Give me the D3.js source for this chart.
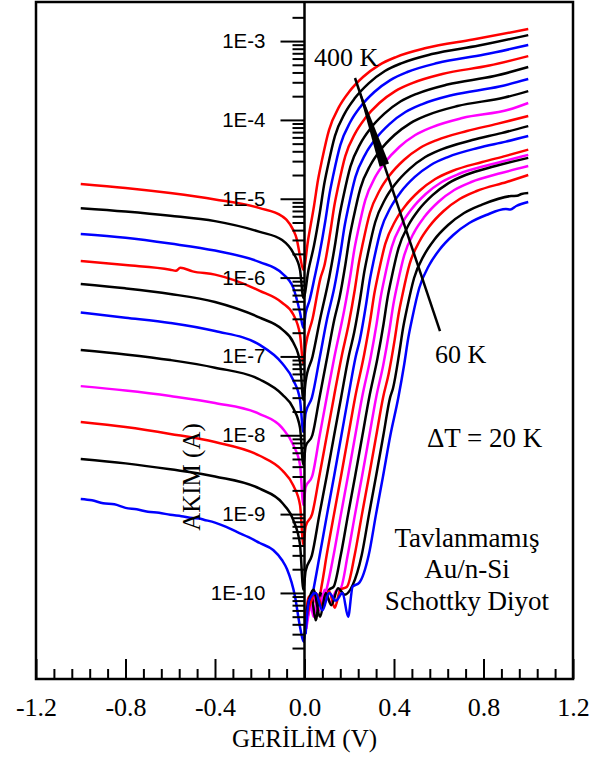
<!DOCTYPE html>
<html>
<head>
<meta charset="utf-8">
<script src="https://cdn.jsdelivr.net/npm/d3@7"></script>
<style>
  body { margin: 0; background: #fff; }
</style>
</head>
<body>
<svg id="chart" width="595" height="760"></svg>
<script>
'use strict';

// temperatures (K), hottest first, and the colour used for each curve
const temps = [400, 380, 360, 340, 320, 300, 280, 260, 240, 220, 200, 180, 160, 140, 120, 100, 80, 60];
const curveColors = ['#ff0000', '#000000', '#0000ff', '#ff0000', '#000000', '#0000ff', '#000000', '#ff00ff',
    '#ff0000', '#000000', '#0000ff', '#ff0000', '#ff00ff', '#000000', '#ff00ff', '#ff0000', '#000000', '#0000ff'];

// [voltage (V), |current| (A)]
const c400 = [[-1.0, 1.54e-5], [-0.8, 1.37e-5], [-0.6, 1.18e-5], [-0.4, 9.8e-6], [-0.2, 7.6e-6], [-0.1, 6.0e-6],
    [-0.08, 5.4e-6], [-0.05, 4.0e-6], [-0.035, 3.1e-6], [-0.02, 1.88e-6], [-0.005, 1.25e-6],
    [0.016, 3.0e-6], [0.0425, 8.1e-6], [0.0603, 1.73e-5], [0.0782, 3.1e-5], [0.1095, 7.44e-5], [0.1542, 1.46e-4],
    [0.1989, 2.26e-4], [0.2615, 3.5e-4], [0.333, 4.96e-4], [0.4089, 6.27e-4], [0.543, 8.15e-4], [0.753, 1.045e-3], [1.0, 1.42e-3]];
const c380 = [[-1.0, 7.6e-6], [-0.8, 6.9e-6], [-0.6, 6.1e-6], [-0.4, 5.2e-6], [-0.2, 3.8e-6], [-0.1, 3.0e-6],
    [-0.05, 2.05e-6], [-0.02, 1.25e-6], [-0.005, 5.5e-7],
    [0.018, 1.26e-6], [0.042, 2.51e-6], [0.0689, 6.79e-6], [0.0867, 1.45e-5], [0.1046, 2.6e-5], [0.1359, 6.24e-5],
    [0.1806, 1.22e-4], [0.2253, 1.89e-4], [0.2879, 2.93e-4], [0.3594, 4.17e-4], [0.4353, 5.26e-4], [0.5694, 6.84e-4],
    [0.7794, 8.77e-4], [1.0, 1.19e-3]];
const c360 = [[-1.0, 3.57e-6], [-0.8, 3.2e-6], [-0.6, 2.7e-6], [-0.4, 2.2e-6], [-0.2, 1.57e-6], [-0.1, 1.13e-6],
    [-0.05, 7.4e-7], [-0.02, 3.6e-7], [-0.005, 2.3e-7],
    [0.006, 3.6e-7], [0.023, 5.2e-7], [0.045, 1.0e-6], [0.0661, 1.93e-6], [0.093, 5.22e-6], [0.1108, 1.11e-5],
    [0.1287, 2.0e-5], [0.16, 4.8e-5], [0.2047, 9.4e-5], [0.2494, 1.46e-4], [0.312, 2.26e-4], [0.3835, 3.2e-4],
    [0.4594, 4.05e-4], [0.5935, 5.26e-4], [0.8035, 6.74e-4], [1.0, 8.9e-4]];
const c340 = [[-1.0, 1.62e-6], [-0.8, 1.44e-6], [-0.6, 1.26e-6], [-0.575, 1.22e-6], [-0.555, 1.33e-6], [-0.5, 1.2e-6],
    [-0.4, 1.09e-6], [-0.2, 6.8e-7], [-0.1, 4.8e-7], [-0.05, 3.4e-7], [-0.02, 1.87e-7], [-0.005, 8.2e-8],
    [0.005, 1.35e-7], [0.036, 3.0e-7], [0.072, 1.0e-6], [0.0884, 1.4e-6], [0.1153, 3.78e-6], [0.1331, 8.09e-6],
    [0.151, 1.45e-5], [0.1823, 3.48e-5], [0.227, 6.81e-5], [0.2717, 1.056e-4], [0.3343, 1.64e-4], [0.4058, 2.32e-4],
    [0.4817, 2.93e-4], [0.6158, 3.82e-4], [0.8258, 4.89e-4], [1.0, 6.45e-4]];
const c320 = [[-1.0, 8.3e-7], [-0.8, 7.3e-7], [-0.6, 6.2e-7], [-0.4, 4.9e-7], [-0.2, 3.1e-7], [-0.1, 2.2e-7],
    [-0.05, 1.5e-7], [-0.02, 8.5e-8], [-0.005, 2.8e-8],
    [0.005, 4.8e-8], [0.036, 1.0e-7], [0.07, 3.0e-7], [0.1112, 1.03e-6], [0.1381, 2.79e-6], [0.1559, 5.95e-6],
    [0.1738, 1.067e-5], [0.2051, 2.56e-5], [0.2498, 5.01e-5], [0.2945, 7.77e-5], [0.3571, 1.2e-4], [0.4286, 1.71e-4],
    [0.5045, 2.16e-4], [0.6386, 2.81e-4], [0.8486, 3.6e-4], [1.0, 4.68e-4]];
const c300 = [[-1.0, 3.6e-7], [-0.8, 3.1e-7], [-0.6, 2.66e-7], [-0.4, 2.1e-7], [-0.2, 1.4e-7], [-0.1, 8.2e-8],
    [-0.05, 5.0e-8], [-0.02, 2.8e-8], [-0.005, 1.1e-8],
    [0.005, 1.9e-8], [0.033, 3.0e-8], [0.069, 1.0e-7], [0.101, 3.0e-7], [0.1338, 7.6e-7], [0.1607, 2.05e-6],
    [0.1785, 4.38e-6], [0.1964, 7.85e-6], [0.2277, 1.89e-5], [0.2724, 3.69e-5], [0.3171, 5.72e-5], [0.3797, 8.86e-5],
    [0.4512, 1.258e-4], [0.5271, 1.589e-4], [0.6612, 2.07e-4], [0.8712, 2.65e-4], [1.0, 3.3e-4]];
const c280 = [[-1.0, 1.21e-7], [-0.8, 1.06e-7], [-0.6, 9.0e-8], [-0.4, 7.2e-8], [-0.2, 5.1e-8], [-0.1, 3.3e-8],
    [-0.05, 2.2e-8], [-0.02, 1.24e-8], [-0.005, 4.2e-9],
    [0.005, 7.2e-9], [0.035, 1.0e-8], [0.067, 3.0e-8], [0.102, 1.0e-7], [0.134, 3.0e-7], [0.1562, 5.51e-7],
    [0.1831, 1.49e-6], [0.2009, 3.18e-6], [0.2188, 5.69e-6], [0.2501, 1.367e-5], [0.2948, 2.68e-5], [0.3395, 4.15e-5],
    [0.4021, 6.43e-5], [0.4736, 9.12e-5], [0.5495, 1.152e-4], [0.6836, 1.5e-4], [0.8936, 1.92e-4], [1.0, 2.32e-4]];
const c260 = [[-1.0, 4.2e-8], [-0.8, 3.7e-8], [-0.6, 3.15e-8], [-0.4, 2.57e-8], [-0.2, 1.86e-8], [-0.1, 1.24e-8],
    [-0.05, 7.5e-9], [-0.02, 4.2e-9], [-0.005, 1.3e-9],
    [0.005, 2.2e-9], [0.034, 3.0e-9], [0.068, 1.0e-8], [0.099, 3.0e-8], [0.134, 1.0e-7], [0.1777, 3.88e-7],
    [0.2046, 1.047e-6], [0.2224, 2.24e-6], [0.2403, 4.01e-6], [0.2716, 9.63e-6], [0.3163, 1.89e-5], [0.361, 2.92e-5],
    [0.4236, 4.53e-5], [0.4951, 6.43e-5], [0.571, 8.12e-5], [0.7051, 1.056e-4], [0.9151, 1.353e-4], [1.0, 1.64e-4]];
const c240 = [[-1.0, 1.47e-8], [-0.8, 1.27e-8], [-0.6, 1.04e-8], [-0.4, 8.2e-9], [-0.2, 5.5e-9], [-0.1, 3.6e-9],
    [-0.05, 2.3e-9], [-0.02, 1.3e-9], [-0.005, 4.1e-10],
    [0.005, 7.0e-10], [0.034, 1.0e-9], [0.066, 3.0e-9], [0.1, 1.0e-8], [0.131, 3.0e-8], [0.166, 1.0e-7],
    [0.1984, 2.65e-7], [0.2253, 7.17e-7], [0.2431, 1.53e-6], [0.261, 2.74e-6], [0.2923, 6.59e-6], [0.337, 1.29e-5],
    [0.3817, 2.0e-5], [0.4443, 3.1e-5], [0.5158, 4.4e-5], [0.5917, 5.55e-5], [0.7258, 7.22e-5], [0.86, 8.9e-5], [1.0, 1.12e-4]];
const c220 = [[-1.0, 5.0e-9], [-0.8, 4.4e-9], [-0.6, 3.7e-9], [-0.4, 3.0e-9], [-0.2, 2.1e-9], [-0.1, 1.39e-9],
    [-0.05, 8.4e-10], [-0.02, 4.1e-10], [-0.005, 1.1e-10],
    [0.005, 1.9e-10], [0.033, 3.0e-10], [0.067, 1.0e-9], [0.099, 3.0e-9], [0.1325, 1.0e-8], [0.1635, 3.0e-8],
    [0.1975, 1.0e-7], [0.2224, 2.04e-7], [0.2493, 5.51e-7], [0.2671, 1.177e-6], [0.285, 2.11e-6], [0.3163, 5.07e-6],
    [0.361, 9.92e-6], [0.4057, 1.537e-5], [0.4683, 2.38e-5], [0.5398, 3.38e-5], [0.6157, 4.27e-5], [0.7498, 5.55e-5],
    [0.88, 6.8e-5], [1.0, 8.36e-5]];
const c200 = [[-1.0, 1.56e-9], [-0.95, 1.5e-9], [-0.9, 1.37e-9], [-0.85, 1.33e-9], [-0.8, 1.2e-9], [-0.75, 1.15e-9],
    [-0.7, 1.07e-9], [-0.65, 1.04e-9], [-0.6, 9.8e-10], [-0.55, 9.4e-10], [-0.5, 8.9e-10], [-0.47, 8.8e-10],
    [-0.45, 8.5e-10], [-0.4, 7.8e-10], [-0.35, 6.9e-10], [-0.3, 5.9e-10], [-0.25, 5.1e-10], [-0.2, 4.3e-10],
    [-0.14, 3.5e-10], [-0.1, 2.6e-10], [-0.078, 2.0e-10], [-0.042, 8.9e-11], [-0.02, 3.7e-11], [-0.004, 2.4e-11],
    [0.005, 3.6e-11], [0.02, 6.0e-11], [0.037, 1.0e-10], [0.068, 3.0e-10], [0.101, 1.0e-9], [0.132, 3.0e-9],
    [0.165, 1.0e-8], [0.195, 3.0e-8], [0.229, 1.0e-7], [0.2472, 1.62e-7], [0.2741, 4.36e-7], [0.2919, 9.32e-7],
    [0.3098, 1.67e-6], [0.3411, 4.01e-6], [0.3858, 7.85e-6], [0.4305, 1.217e-5], [0.4931, 1.89e-5], [0.5646, 2.68e-5],
    [0.6405, 3.38e-5], [0.7746, 4.4e-5], [0.9, 5.3e-5], [1.0, 6.24e-5]];
const c180 = [[0.004, 4.5e-11], [0.02, 9.0e-11], [0.035, 7.0e-11], [0.05, 1.0e-10], [0.062, 8.0e-11], [0.078, 1.3e-10],
    [0.099, 3.0e-10], [0.132, 1.0e-9], [0.163, 3.0e-9], [0.196, 1.0e-8], [0.226, 3.0e-8],
    [0.2671, 1.074e-7], [0.294, 2.9e-7], [0.3118, 6.19e-7], [0.3297, 1.11e-6], [0.361, 2.67e-6], [0.4057, 5.22e-6],
    [0.4504, 8.09e-6], [0.513, 1.253e-5], [0.5845, 1.78e-5], [0.6604, 2.25e-5], [0.7945, 2.92e-5], [0.9, 3.5e-5], [1.0, 4.2e-5]];
const c160 = [[0.005, 3.5e-11], [0.025, 8.0e-11], [0.04, 5.0e-11], [0.06, 9.0e-11], [0.08, 7.5e-11], [0.1, 1.15e-10],
    [0.13, 3.0e-10], [0.163, 1.0e-9], [0.194, 3.0e-9], [0.227, 1.0e-8], [0.257, 3.0e-8],
    [0.296, 9.84e-8], [0.3229, 2.66e-7], [0.3407, 5.67e-7], [0.3586, 1.017e-6], [0.3899, 2.44e-6], [0.4346, 4.78e-6],
    [0.4793, 7.41e-6], [0.5419, 1.148e-5], [0.6134, 1.63e-5], [0.6893, 2.06e-5], [0.8234, 2.68e-5], [0.92, 3.15e-5], [1.0, 3.6e-5]];
const c140 = [[0.006, 4.0e-11], [0.03, 9.5e-11], [0.05, 4.5e-11], [0.07, 1.0e-10], [0.09, 8.0e-11], [0.11, 1.1e-10],
    [0.13, 1.2e-10], [0.162, 3.0e-10], [0.195, 1.0e-9], [0.226, 3.0e-9], [0.259, 1.0e-8], [0.289, 3.0e-8],
    [0.3264, 9.55e-8], [0.3533, 2.58e-7], [0.3711, 5.51e-7], [0.389, 9.88e-7], [0.4203, 2.37e-6], [0.465, 4.64e-6],
    [0.5097, 7.19e-6], [0.5723, 1.11e-5], [0.6438, 1.58e-5], [0.7197, 2.0e-5], [0.8538, 2.6e-5], [1.0, 3.3e-5]];
const c120 = [[0.008, 3.5e-11], [0.04, 9.0e-11], [0.065, 6.0e-11], [0.09, 1.1e-10], [0.115, 7.5e-11], [0.14, 1.05e-10],
    [0.162, 1.15e-10], [0.193, 3.0e-10], [0.226, 1.0e-9], [0.257, 3.0e-9], [0.29, 1.0e-8], [0.32, 3.0e-8],
    [0.352, 7.79e-8], [0.3789, 2.1e-7], [0.3967, 4.49e-7], [0.4146, 8.05e-7], [0.4459, 1.93e-6], [0.4906, 3.78e-6],
    [0.5353, 5.86e-6], [0.5979, 9.09e-6], [0.6694, 1.29e-5], [0.7453, 1.63e-5], [0.8794, 2.12e-5], [1.0, 2.6e-5]];
const c100 = [[0.01, 5.0e-11], [0.05, 1.0e-10], [0.08, 7.0e-11], [0.11, 1.05e-10], [0.135, 6.5e-11], [0.16, 1.1e-10],
    [0.19, 1.2e-10], [0.224, 3.0e-10], [0.257, 1.0e-9], [0.288, 3.0e-9], [0.321, 1.0e-8], [0.351, 3.0e-8],
    [0.376, 5.99e-8], [0.4029, 1.62e-7], [0.4207, 3.45e-7], [0.4386, 6.19e-7], [0.4699, 1.49e-6], [0.5146, 2.91e-6],
    [0.5593, 4.51e-6], [0.6219, 6.99e-6], [0.6934, 9.92e-6], [0.7693, 1.253e-5], [0.9034, 1.63e-5], [1.0, 2.0e-5]];
const c80 = [[0.01, 6.0e-11], [0.04, 1.1e-10], [0.07, 5.0e-11], [0.095, 1.0e-10], [0.12, 7.0e-11], [0.15, 1.15e-10],
    [0.18, 9.5e-11], [0.215, 1.25e-10], [0.2555, 3.0e-10], [0.2885, 1.0e-9], [0.3195, 3.0e-9], [0.3525, 1.0e-8],
    [0.3825, 3.0e-8], [0.3959, 3.98e-8], [0.4228, 1.074e-7], [0.4406, 2.29e-7], [0.4585, 4.11e-7], [0.4898, 9.88e-7],
    [0.5345, 1.93e-6], [0.5792, 3.0e-6], [0.6418, 4.64e-6], [0.7133, 6.59e-6], [0.7892, 8.32e-6], [0.9233, 1.083e-5],
    [0.95, 1.09e-5], [0.97, 1.15e-5], [1.0, 1.18e-5]];
const c60 = [[0.005, 3.0e-11], [0.02, 8.0e-11], [0.05, 1.0e-10], [0.08, 6.0e-11], [0.11, 1.0e-10], [0.14, 8.0e-11],
    [0.17, 1.0e-10], [0.195, 5.0e-11], [0.215, 1.2e-10], [0.245, 1.35e-10], [0.2868, 3.0e-10], [0.3198, 1.0e-9],
    [0.3508, 3.0e-9], [0.3838, 1.0e-8], [0.419, 2.97e-8], [0.4459, 8.02e-8], [0.4637, 1.71e-7], [0.4816, 3.07e-7],
    [0.5129, 7.38e-7], [0.5576, 1.444e-6], [0.6023, 2.24e-6], [0.6649, 3.47e-6], [0.7364, 4.92e-6], [0.8123, 6.22e-6],
    [0.9, 7.4e-6], [0.92, 7.3e-6], [0.9464, 8.09e-6], [1.0, 9.1e-6]];

const curves = [c400, c380, c360, c340, c320, c300, c280, c260, c240, c220, c200, c180, c160, c140, c120, c100, c80, c60];

const xTickValues = [-1.2, -0.8, -0.4, 0, 0.4, 0.8, 1.2];
const xTickLabels = ['-1.2', '-0.8', '-0.4', '0.0', '0.4', '0.8', '1.2'];
const yTickValues = [1e-3, 1e-4, 1e-5, 1e-6, 1e-7, 1e-8, 1e-9, 1e-10];
const yTickLabels = ['1E-3', '1E-4', '1E-5', '1E-6', '1E-7', '1E-8', '1E-9', '1E-10'];

const serif = "'Liberation Serif', 'Times New Roman', serif";
const sans = "'Liberation Sans', Arial, sans-serif";

const width = 595, height = 760;
let plot = {left: 36, right: 573, top: 2, bottom: 679};

const svg = d3.select('#chart');
svg.append('rect').attr('width', width).attr('height', height).attr('fill', '#fff');

// scales
const x = d3.scaleLinear().domain([-1.2, 1.2]).range([plot.left, plot.right]);
const y = d3.scaleLog().domain([8.1e-12, 3.13e-3]).range([plot.bottom, plot.top]);

svg.append('defs').append('clipPath').attr('id', 'plot-clip')
    .append('rect')
    .attr('x', plot.left).attr('y', plot.top)
    .attr('width', plot.right - plot.left).attr('height', plot.bottom - plot.top);

// the I-V curves
let line = d3.line()
    .x(function(d) { return x(d[0]); })
    .y(function(d) { return y(d[1]); })
    .curve(d3.curveMonotoneX);

let gCurves = svg.append('g').attr('clip-path', 'url(#plot-clip)');
curves.forEach(function(c, i) {
    gCurves.append('path')
        .datum(c)
        .attr('class', 'curve t' + temps[i])
        .attr('d', line)
        .attr('fill', 'none')
        .attr('stroke', curveColors[i])
        .attr('stroke-width', 2.5)
        .attr('stroke-linejoin', 'round');
});

// x axis: ticks point up into the plot
let xMinor = d3.range(-15, 16).filter(function(i) { return i % 5 !== 0; }).map(function(i) { return i * 0.08; });
let gxMinor = svg.append('g')
    .attr('transform', 'translate(0,' + plot.bottom + ')')
    .call(d3.axisBottom(x).tickValues(xMinor).tickSize(-10).tickFormat(''));
gxMinor.select('.domain').remove();

let gx = svg.append('g')
    .attr('transform', 'translate(0,' + plot.bottom + ')')
    .call(d3.axisBottom(x).tickValues(xTickValues).tickSize(-20).tickPadding(19)
        .tickFormat(function(d, i) { return xTickLabels[i]; }));
gx.select('.domain').remove();
gx.selectAll('text').attr('font-family', serif).attr('font-size', 26).attr('fill', '#000');

// y axis sits at V = 0, ticks point left
let yMinor = [];
for (let e = -12; e <= -3; e++) {
    for (let m = 2; m <= 9; m++) {
        let v = m * Math.pow(10, e);
        if (v >= 2e-11 && v < 2.5e-3) yMinor.push(v);
    }
}
let gyMinor = svg.append('g')
    .attr('transform', 'translate(' + x(0) + ',0)')
    .call(d3.axisLeft(y).tickValues(yMinor).tickSize(12).tickFormat(''));
gyMinor.select('.domain').remove();

let gy = svg.append('g')
    .attr('transform', 'translate(' + x(0) + ',0)')
    .call(d3.axisLeft(y).tickValues(yTickValues).tickSize(24).tickPadding(15)
        .tickFormat(function(d, i) { return yTickLabels[i]; }));
gy.select('.domain').remove();
gy.selectAll('text').attr('font-family', sans).attr('font-size', 20.5).attr('fill', '#000');

svg.selectAll('.tick line').attr('stroke', '#000').attr('stroke-width', 2);

svg.append('line')
    .attr('x1', x(0)).attr('x2', x(0))
    .attr('y1', plot.top).attr('y2', plot.bottom)
    .attr('stroke', '#000').attr('stroke-width', 2.5);

// frame
svg.append('rect')
    .attr('x', plot.left).attr('y', plot.top)
    .attr('width', plot.right - plot.left).attr('height', plot.bottom - plot.top)
    .attr('fill', 'none').attr('stroke', '#000').attr('stroke-width', 2.5);

// axis titles
svg.append('text')
    .attr('x', x(0)).attr('y', 747)
    .attr('text-anchor', 'middle')
    .attr('font-family', serif).attr('font-size', 25)
    .text('GERİLİM (V)');

svg.append('text')
    .attr('transform', 'translate(200,477) rotate(-90)')
    .attr('text-anchor', 'middle')
    .attr('font-family', serif).attr('font-size', 25)
    .text('AKIM (A)');

// annotations
function note(txt, px, py, size, anchor) {
    svg.append('text')
        .attr('x', px).attr('y', py)
        .attr('text-anchor', anchor || 'start')
        .attr('font-family', serif).attr('font-size', size)
        .text(txt);
}
note('400 K', 314, 65.5, 26);
note('60 K', 435, 363, 26);
note('ΔT = 20 K', 427, 447, 27);
note('Tavlanmamış', 467, 547, 27, 'middle');
note('Au/n-Si', 467, 578, 27, 'middle');
note('Schottky Diyot', 467, 610, 27, 'middle');

// arrow from 60 K up to 400 K, with a long narrow head
let a0 = [x(0.6056), y(2.1e-7)];
let a1 = [x(0.2257), y(3.4e-4)];
svg.append('line')
    .attr('x1', a0[0]).attr('y1', a0[1])
    .attr('x2', a1[0]).attr('y2', a1[1])
    .attr('stroke', '#000').attr('stroke-width', 2.5);

let dx = a1[0] - a0[0], dy = a1[1] - a0[1];
let len = Math.sqrt(dx * dx + dy * dy);
let ux = dx / len, uy = dy / len;
let tip = [a1[0] - ux * 2, a1[1] - uy * 2];
let base = [tip[0] - ux * 90, tip[1] - uy * 90];
let half = 5;
svg.append('polygon')
    .attr('points', [
        tip,
        [base[0] - uy * half, base[1] + ux * half],
        [base[0] + uy * half, base[1] - ux * half]
    ].map(function(p) { return p.join(','); }).join(' '))
    .attr('fill', '#000');
</script>
</body>
</html>
